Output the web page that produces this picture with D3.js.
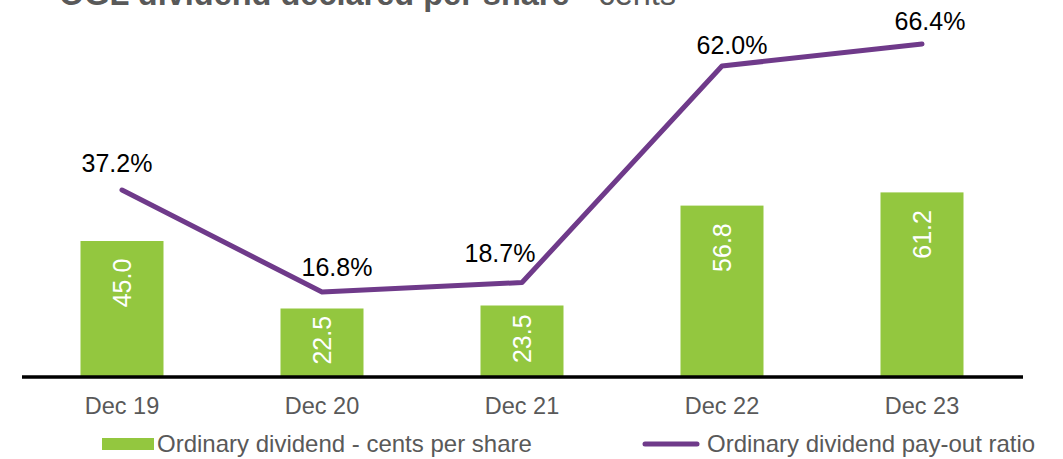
<!DOCTYPE html>
<html>
<head>
<meta charset="utf-8">
<script src="https://cdn.jsdelivr.net/npm/d3@7/dist/d3.min.js"></script>
<style>
  html, body { margin: 0; padding: 0; background: #fff; }
  svg { display: block; font-family: "Liberation Sans", Arial, sans-serif; }
</style>
</head>
<body>
<svg id="chart" width="1063" height="459"></svg>
<script>
// ---- data ----
const categories = ["Dec 19", "Dec 20", "Dec 21", "Dec 22", "Dec 23"];
const dividendCents = [45.0, 22.5, 23.5, 56.8, 61.2];
const payoutRatio = [37.2, 16.8, 18.7, 62.0, 66.4];
const seriesNames = ["Ordinary dividend - cents per share", "Ordinary dividend pay-out ratio"];
const titleBold = "OGL dividend declared per share";
const titleRest = " - cents";

// ---- layout ----
const W = 1063, H = 459;
const axisY = 376;
const left = 22, right = 1022;
const green = "#93C73F";
const purple = "#6F3A8A";
const grey = "#595959";
// label nudges for ratio labels (dx, dy relative to point)
const ratioLabelNudge = [[-5, -18], [15, -16], [-22, -21], [10, -12], [8, -14]];

const svg = d3.select("#chart");

const x = d3.scaleBand().domain(categories).range([left, right])
  .paddingInner(0.585).paddingOuter(0.2925);
const yBar = d3.scaleLinear().domain([0, 125]).range([axisY, 1]);
const yLine = d3.scaleLinear().domain([0, 75]).range([axisY, 1]);

// title (cut off at top, as in the source)
const title = svg.append("text").attr("x", 59).attr("y", 5)
  .attr("font-size", 32.5).attr("fill", grey);
title.append("tspan").attr("font-weight", "bold").text(titleBold);
title.append("tspan").attr("font-weight", "normal").text(titleRest);

// bars
const barData = categories.map((c, i) => ({c, v: dividendCents[i]}));
svg.append("g").selectAll("rect").data(barData).join("rect")
  .attr("x", d => x(d.c))
  .attr("y", d => yBar(d.v))
  .attr("width", x.bandwidth())
  .attr("height", d => axisY - yBar(d.v))
  .attr("fill", green);

// bar labels (rotated, white)
svg.append("g").selectAll("text").data(barData).join("text")
  .attr("transform", d => {
    const cx = x(d.c) + x.bandwidth() / 2;
    const top = yBar(d.v);
    const cy = Math.min(top + 42, (top + axisY) / 2 - 2);
    return `translate(${cx},${cy}) rotate(-90)`;
  })
  .attr("text-anchor", "middle")
  .attr("dominant-baseline", "central")
  .attr("font-size", 25)
  .attr("fill", "#fff")
  .text(d => d.v.toFixed(1));

// axis
const xAxis = d3.axisBottom(x).tickSize(0).tickPadding(0);
const ax = svg.append("g").attr("transform", `translate(0,${axisY})`).call(xAxis);
ax.select(".domain").remove();
ax.selectAll("text")
  .attr("font-size", 23.5)
  .attr("font-family", "Liberation Sans, Arial, sans-serif")
  .attr("fill", grey)
  .attr("dy", null)
  .attr("y", 38);
svg.append("line")
  .attr("x1", left).attr("x2", right + 1)
  .attr("y1", axisY + 1).attr("y2", axisY + 1)
  .attr("stroke", "#000").attr("stroke-width", 3.5);

// line
const lineData = categories.map((c, i) => ({c, v: payoutRatio[i], i}));
const line = d3.line()
  .x(d => x(d.c) + x.bandwidth() / 2)
  .y(d => yLine(d.v));
svg.append("path").datum(lineData)
  .attr("d", line)
  .attr("fill", "none")
  .attr("stroke", purple)
  .attr("stroke-width", 5)
  .attr("stroke-linejoin", "round")
  .attr("stroke-linecap", "round");

// line labels
svg.append("g").selectAll("text").data(lineData).join("text")
  .attr("x", d => x(d.c) + x.bandwidth() / 2 + ratioLabelNudge[d.i][0])
  .attr("y", d => yLine(d.v) + ratioLabelNudge[d.i][1])
  .attr("text-anchor", "middle")
  .attr("font-size", 25)
  .attr("fill", "#000")
  .text(d => d.v.toFixed(1) + "%");

// legend
const lg = svg.append("g");
lg.append("rect").attr("x", 102).attr("y", 438).attr("width", 52).attr("height", 12).attr("fill", green);
lg.append("text").attr("x", 157).attr("y", 452).attr("font-size", 24).attr("fill", grey).text(seriesNames[0]);
lg.append("line").attr("x1", 645).attr("x2", 697).attr("y1", 444).attr("y2", 444)
  .attr("stroke", purple).attr("stroke-width", 5).attr("stroke-linecap", "round");
lg.append("text").attr("x", 707).attr("y", 452).attr("font-size", 24).attr("fill", grey).text(seriesNames[1]);
</script>
</body>
</html>
